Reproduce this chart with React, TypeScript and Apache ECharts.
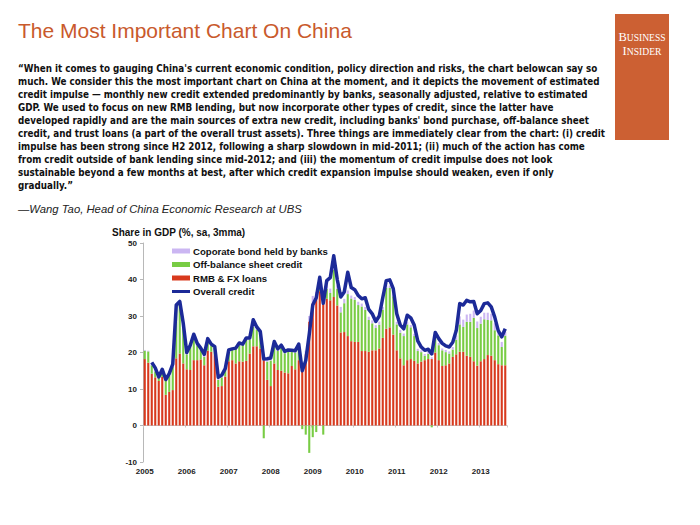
import React, { useEffect, useRef } from "react";
import * as echarts from "echarts";

// Monthly categories Jan 2005 .. Aug 2013
const months: string[] = [];
for (let y = 2005; y <= 2013; y++) {
  for (let m = 1; m <= 12; m++) {
    if (y === 2013 && m > 8) break;
    months.push(`${y}-${m < 10 ? "0" + m : m}`);
  }
}

// RMB & FX loans (% of GDP)
const rmbFxLoans = [
  18.2, 17.2, 14.2, 13.2, 12.2, 13.3, 8.4, 9.2, 9.7, 18.4,
  19.7, 17.0, 15.4, 15.2, 17.9, 17.9, 18.1, 16.5, 20.5, 20.2,
  19.3, 10.6, 10.8, 13.4, 17.6, 17.9, 17.0, 17.6, 17.5, 17.7,
  19.7, 21.7, 21.7, 21.1, 17.9, 12.5, 10.8, 17.0, 15.2, 15.0,
  14.5, 14.3, 16.3, 15.4, 17.9, 15.0, 19.5, 28.5, 33.5, 35.0,
  36.8, 35.2, 34.7, 34.3, 35.2, 32.9, 25.5, 25.6, 24.5, 23.1,
  22.9, 22.9, 20.4, 20.4, 20.2, 20.6, 20.6, 21.1, 24.0, 26.5,
  26.9, 24.9, 20.6, 18.4, 16.5, 17.9, 18.2, 17.7, 17.0, 17.5,
  17.9, 18.2, 18.2, 20.0, 17.9, 16.3, 16.5, 17.0, 18.8, 19.5,
  20.2, 20.2, 19.1, 18.8, 17.6, 16.4, 17.6, 18.2, 19.3, 19.1,
  17.9, 16.8, 16.5, 16.5,
];

// Off-balance sheet credit
const offBalance = [
  2.3, 3.1, 2.3, 1.6, 1.1, 1.3, 4.1, 4.4, 6.3, 14.1,
  13.5, 10.0, 4.1, 6.3, 6.1, 4.1, 2.9, 2.3, 2.5, 1.8,
  2.2, 1.9, 2.4, 1.8, 2.7, 2.8, 4.0, 4.4, 4.5, 5.8,
  3.9, 5.3, 4.6, 4.4, -3.5, 5.0, 7.0, 5.5, 5.3, 6.3,
  5.3, 6.0, 4.0, 4.6, 4.1, -1.0, -2.5, -7.5, -3.2, -1.8,
  2.7, -2.5, 2.7, 2.0, 7.4, 4.5, 5.5, 7.9, 11.5, 11.7,
  11.5, 10.1, 12.2, 11.3, 8.7, 7.4, 6.1, 6.5, 7.7, 11.2,
  10.8, 10.5, 7.1, 7.0, 8.0, 9.8, 8.7, 6.8, 3.4, 2.6,
  1.2, 1.4, -0.5, 4.0, 4.1, 4.3, 3.6, 2.7, 2.0, 4.0,
  7.5, 6.8, 9.3, 9.6, 11.9, 10.3, 10.3, 10.9, 9.6, 9.7,
  8.2, 7.9, 5.0, 8.1,
];

// Coporate bond held by banks
const corpBond = [
  0.2, 0.2, 0.3, 0.3, 0.2, 0.2, 0.3, 0.3, 0.3, 0.4,
  0.4, 0.4, 0.4, 0.5, 0.6, 0.5, 0.5, 0.6, 0.5, 0.4,
  0.4, 0.3, 0.3, 0.3, 0.4, 0.4, 0.4, 0.4, 0.5, 0.5,
  0.4, 0.4, 0.4, 0.4, 0.3, 0.3, 0.3, 0.3, 0.3, 0.3,
  0.3, 0.3, 0.3, 0.3, 0.4, 0.6, 1.0, 1.5, 2.0, 1.6,
  0.8, 1.0, 1.0, 1.2, 0.8, 1.0, 1.5, 1.2, 1.0, 0.8,
  0.8, 0.9, 0.8, 0.8, 0.9, 0.8, 0.8, 0.9, 0.8, 0.7,
  0.7, 0.8, 0.7, 0.8, 0.7, 0.6, 0.6, 0.6, 0.6, 0.5,
  0.5, 0.5, 0.5, 0.6, 0.6, 0.5, 0.6, 0.6, 0.7, 1.2,
  2.2, 2.0, 2.0, 2.2, 2.0, 1.8, 1.9, 1.8, 2.0, 1.8,
  1.9, 1.5, 1.4, 1.0,
];

// Overall credit (3mma)
const overallCredit: (number | null)[] = [
  null, null, 17.3, 15.8, 13.3, 15.4, 12.6, 14.2, 16.8, 33.0,
  34.0, 28.0, 20.0, 22.0, 25.0, 22.5, 21.2, 19.5, 23.8, 22.3,
  21.6, 13.2, 13.8, 15.6, 20.7, 21.0, 21.2, 22.6, 22.3, 24.0,
  24.0, 29.0, 27.0, 25.8, 18.2, 18.3, 18.5, 23.0, 21.0, 22.0,
  20.3, 20.7, 20.6, 20.5, 22.3, 15.0, 17.8, 25.0, 33.0, 35.0,
  40.6, 33.5, 39.7, 40.5, 46.5, 40.0, 35.2, 36.6, 42.0, 37.8,
  37.2, 35.6, 34.7, 35.0, 31.8, 30.6, 28.5, 30.0, 35.0, 39.7,
  39.9, 37.5, 30.6, 27.5, 26.5, 30.2, 29.5, 27.5, 23.2, 21.5,
  20.6, 20.9, 19.6, 25.5, 23.8, 22.5, 21.8, 21.5, 22.8, 26.0,
  33.4, 33.0, 34.3, 33.9, 34.0, 30.6, 31.5, 33.4, 33.6, 32.5,
  29.7, 26.0, 24.3, 26.5,
];

const yTicks = { min: -10, max: 50, interval: 10 };

const titleText = "The Most Important Chart On China";
const quoteLines = [
  "\u201CWhen it comes to gauging China's current economic condition, policy direction and risks, the chart belowcan say so",
  "much. We consider this the most important chart on China at the moment, and it depicts the movement of estimated",
  "credit impulse \u2014 monthly new credit extended predominantly by banks, seasonally adjusted, relative to estimated",
  "GDP. We used to focus on new RMB lending, but now incorporate other types of credit, since the latter have",
  "developed rapidly and are the main sources of extra new credit, including banks' bond purchase, off-balance sheet",
  "credit, and trust loans (a part of the overall trust assets). Three things are immediately clear from the chart: (i) credit",
  "impulse has been strong since H2 2012, following a sharp slowdown in mid-2011; (ii) much of the action has come",
  "from credit outside of bank lending since mid-2012; and (iii) the momentum of credit impulse does not look",
  "sustainable beyond a few months at best, after which credit expansion impulse should weaken, even if only",
  "gradually.\u201D",
];
const attribution = "\u2014Wang Tao, Head of China Economic Research at UBS";
const yAxisTitle = "Share in GDP (%, sa, 3mma)";

const C_RED = "#d8391d";
const C_GREEN = "#78cc44";
const C_PURPLE = "#cbb6f2";
const C_BLUE = "#1c2a98";
const SANS = "'Liberation Sans', Arial, Helvetica, sans-serif";
const NARROW = "'DejaVu Sans Condensed', 'Liberation Sans', sans-serif";
const SERIF = "'Liberation Serif', 'DejaVu Serif', serif";

export default function App() {
  const ref = useRef<HTMLDivElement>(null);
  useEffect(() => {
    if (!ref.current) return;
    const chart = echarts.init(ref.current, undefined, { renderer: "svg" });

    const logoRich = {
      b: { fontSize: 12.5, fontFamily: SERIF, fill: "#fff", color: "#fff" },
      s: { fontSize: 9.6, fontFamily: SERIF, fill: "#fff", color: "#fff" },
    };

    const graphics: any[] = [
      {
        type: "text",
        x: 18,
        y: 30,
        style: {
          text: titleText,
          fill: "#c95a2c",
          font: `normal 21px ${SANS}`,
          align: "left",
          verticalAlign: "middle",
          textAlign: "left",
          textVerticalAlign: "middle",
        },
      },
      {
        type: "rect",
        shape: { x: 615, y: 14, width: 54, height: 126 },
        style: { fill: "#cc6033" },
      },
      {
        type: "text",
        x: 642,
        y: 37,
        style: {
          text: "{b|B}{s|USINESS}",
          fill: "#fff",
          align: "center",
          verticalAlign: "middle",
          textAlign: "center",
          textVerticalAlign: "middle",
          rich: logoRich,
        },
      },
      {
        type: "text",
        x: 642,
        y: 51,
        style: {
          text: "{b|I}{s|NSIDER}",
          fill: "#fff",
          align: "center",
          verticalAlign: "middle",
          textAlign: "center",
          textVerticalAlign: "middle",
          rich: logoRich,
        },
      },
      ...quoteLines.map((line, i) => ({
        type: "text",
        x: 18,
        y: 68 + i * 13,
        style: {
          text: line,
          fill: "#111",
          font: `bold 9.75px ${NARROW}`,
          align: "left",
          verticalAlign: "middle",
          textAlign: "left",
          textVerticalAlign: "middle",
        },
      })),
      {
        type: "text",
        x: 18,
        y: 209,
        style: {
          text: attribution,
          fill: "#222",
          font: `italic 11.3px ${SANS}`,
          align: "left",
          verticalAlign: "middle",
          textAlign: "left",
          textVerticalAlign: "middle",
        },
      },
      {
        type: "text",
        x: 112,
        y: 232,
        style: {
          text: yAxisTitle,
          fill: "#111",
          font: `bold 10px ${SANS}`,
          align: "left",
          verticalAlign: "middle",
          textAlign: "left",
          textVerticalAlign: "middle",
        },
      },
    ];

    chart.setOption({
      animation: false,
      backgroundColor: "#ffffff",
      textStyle: { fontFamily: SANS },
      graphic: graphics,
      grid: { left: 143, top: 243, width: 364, height: 219, containLabel: false },
      legend: {
        orient: "vertical",
        left: 172,
        top: 245,
        padding: 0,
        itemWidth: 18,
        itemHeight: 5,
        itemGap: 1.5,
        selectedMode: false,
        textStyle: { fontSize: 9.6, color: "#111", fontFamily: SANS, lineHeight: 12, fontWeight: "bold", padding: [0, 0, 0, -2] },
        data: [
          { name: "Coporate bond held by banks", icon: "rect" },
          { name: "Off-balance sheet credit", icon: "rect" },
          { name: "RMB & FX loans", icon: "rect" },
          { name: "Overall credit", icon: "path://M0,0 H18 V3 H0 Z", itemStyle: { color: C_BLUE } },
        ],
      },
      xAxis: [
        {
          type: "category",
          data: months,
          boundaryGap: true,
          position: "bottom",
          axisLine: { show: false, onZero: false },
          axisTick: { show: false },
          axisLabel: {
            interval: 11,
            margin: 5,
            fontSize: 8,
            fontWeight: "bold",
            color: "#222",
            formatter: (v: string) => v.slice(0, 4),
          },
        },
        {
          type: "category",
          data: months,
          boundaryGap: true,
          position: "bottom",
          axisLine: { show: true, onZero: true, onZeroAxisIndex: 0, lineStyle: { color: "#c8c8c8", width: 1 } },
          axisTick: { show: true, length: 2, interval: 11, lineStyle: { color: "#c8c8c8" } },
          axisLabel: { show: false },
        },
      ],
      yAxis: {
        type: "value",
        min: yTicks.min,
        max: yTicks.max,
        interval: yTicks.interval,
        axisLine: { show: true, lineStyle: { color: "#b8b8b8", width: 1 } },
        axisTick: { show: true, length: 3, lineStyle: { color: "#b8b8b8" } },
        splitLine: { show: false },
        axisLabel: { fontSize: 8, fontWeight: "bold", color: "#222", margin: 6 },
      },
      series: [
        {
          name: "RMB & FX loans",
          type: "bar",
          stack: "credit",
          data: rmbFxLoans,
          barCategoryGap: "40%",
          itemStyle: { color: C_RED },
        },
        {
          name: "Off-balance sheet credit",
          type: "bar",
          stack: "credit",
          data: offBalance,
          barCategoryGap: "40%",
          itemStyle: { color: C_GREEN },
        },
        {
          name: "Coporate bond held by banks",
          type: "bar",
          stack: "credit",
          data: corpBond,
          barCategoryGap: "40%",
          itemStyle: { color: C_PURPLE },
        },
        {
          name: "Overall credit",
          type: "line",
          data: overallCredit,
          symbol: "none",
          showSymbol: false,
          connectNulls: false,
          lineStyle: { color: C_BLUE, width: 3.5, join: "round" },
          itemStyle: { color: C_BLUE },
          z: 5,
        },
      ],
    });

    return () => chart.dispose();
  }, []);

  return (
    <div
      ref={ref}
      style={{ position: "fixed", left: 0, top: 0, width: 700, height: 525, background: "#fff" }}
    />
  );
}
